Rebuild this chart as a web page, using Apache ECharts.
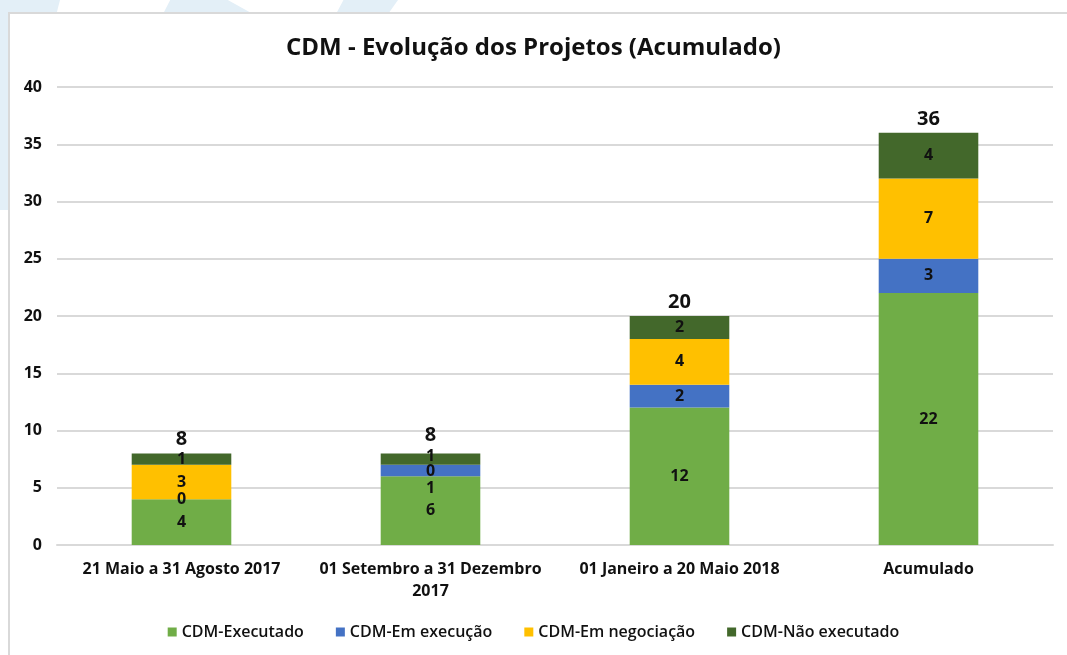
<!DOCTYPE html>
<html>
<head>
<meta charset="utf-8">
<script src="https://cdn.jsdelivr.net/npm/echarts@6/dist/echarts.min.js"></script>
<style>
  html, body { margin: 0; padding: 0; width: 1067px; height: 655px; overflow: hidden; background: #fff; }
  .deco { position: absolute; background: #e3eff7; }
  .box { position: absolute; left: 8px; top: 12px; right: -10px; bottom: -10px; background: #fff; border: 2px solid #d9d9d9; }
  #chart { position: absolute; left: 0; top: 0; width: 1067px; height: 655px; }
</style>
</head>
<body>
<div class="deco" style="left:0;top:0;width:60px;height:14px;clip-path:polygon(0 0,100% 0,94% 100%,0 100%)"></div>
<div class="deco" style="left:163px;top:0;width:90px;height:14px;clip-path:polygon(8% 0,72% 0,100% 100%,0 100%)"></div>
<div class="deco" style="left:336px;top:0;width:62px;height:14px;clip-path:polygon(12% 0,100% 0,84% 100%,0 100%)"></div>
<div class="deco" style="left:0;top:0;width:10px;height:210px;"></div>
<div class="box"></div>
<div id="chart"></div>
<script>
// categorias e séries
const categories = [
  '21 Maio a 31 Agosto 2017',
  '01 Setembro a 31 Dezembro\n2017',
  '01 Janeiro a 20 Maio 2018',
  'Acumulado'
]
const executado = [4, 6, 12, 22]
const emExecucao = [0, 1, 2, 3]
const emNegociacao = [3, 0, 4, 7]
const naoExecutado = [1, 1, 2, 4]
const yTicks = [0, 5, 10, 15, 20, 25, 30, 35, 40]

const totals = categories.map((_, i) => executado[i] + emExecucao[i] + emNegociacao[i] + naoExecutado[i])

const font = '"Open Sans", "Noto Sans", sans-serif'

const segLabel = {
  show: true,
  position: 'inside',
  color: '#111',
  fontFamily: font,
  fontWeight: 'bold',
  fontSize: 16
}

// posição dos rótulos na 2ª coluna (deslocados como no original)
function withOffsets(values, offsets) {
  return values.map((v, i) => offsets[i]
    ? { value: v, label: { offset: offsets[i] } }
    : v)
}

const chart = echarts.init(document.getElementById('chart'), null, { renderer: 'canvas' })

chart.setOption({
  backgroundColor: 'transparent',
  animation: false,
  textStyle: { fontFamily: font },
  title: {
    text: 'CDM - Evolução dos Projetos (Acumulado)',
    left: 'center',
    top: 31,
    textStyle: { fontFamily: font, fontWeight: 'bold', fontSize: 24, color: '#111' }
  },
  grid: { left: 57, right: 14, top: 87, bottom: 110, containLabel: false },
  legend: {
    bottom: 10,
    left: 'center',
    itemWidth: 9,
    itemHeight: 9,
    itemGap: 32,
    icon: 'rect',
    data: ['CDM-Executado', 'CDM-Em execução', 'CDM-Em negociação', 'CDM-Não executado'],
    textStyle: { fontFamily: font, fontWeight: 600, fontSize: 16, color: '#111' }
  },
  xAxis: {
    type: 'category',
    data: categories,
    axisLine: { lineStyle: { color: '#d9d9d9', width: 2 } },
    axisTick: { show: false },
    axisLabel: {
      color: '#111',
      fontFamily: font,
      fontWeight: 'bold',
      fontSize: 16,
      margin: 13,
      lineHeight: 22,
      interval: 0
    }
  },
  yAxis: {
    type: 'value',
    min: yTicks[0],
    max: yTicks[yTicks.length - 1],
    interval: yTicks[1] - yTicks[0],
    axisLine: { show: false },
    axisTick: { show: false },
    axisLabel: { color: '#111', fontFamily: font, fontWeight: 'bold', fontSize: 16, margin: 15 },
    splitLine: { lineStyle: { color: '#d9d9d9', width: 2 } }
  },
  series: [
    {
      name: 'CDM-Executado', type: 'bar', stack: 'total', barWidth: '40%',
      itemStyle: { color: '#70ad47' }, label: segLabel,
      data: executado
    },
    {
      name: 'CDM-Em execução', type: 'bar', stack: 'total',
      itemStyle: { color: '#4472c4' }, label: segLabel,
      data: withOffsets(emExecucao, [null, [0, 18]])
    },
    {
      name: 'CDM-Em negociação', type: 'bar', stack: 'total',
      itemStyle: { color: '#ffc000' }, label: segLabel,
      data: withOffsets(emNegociacao, [null, [0, 7]])
    },
    {
      name: 'CDM-Não executado', type: 'bar', stack: 'total',
      itemStyle: { color: '#43682b' }, label: segLabel,
      data: withOffsets(naoExecutado, [null, [0, -3]])
    },
    {
      name: 'Total', type: 'bar', stack: 'total',
      itemStyle: { color: 'transparent' },
      label: {
        show: true,
        position: 'top',
        distance: 4,
        color: '#111',
        fontFamily: font,
        fontWeight: 'bold',
        fontSize: 20,
        formatter: p => totals[p.dataIndex]
      },
      data: withOffsets(totals.map(() => 0), [null, [0, -4]])
    }
  ]
})

window.addEventListener('resize', () => chart.resize())
</script>
</body>
</html>
